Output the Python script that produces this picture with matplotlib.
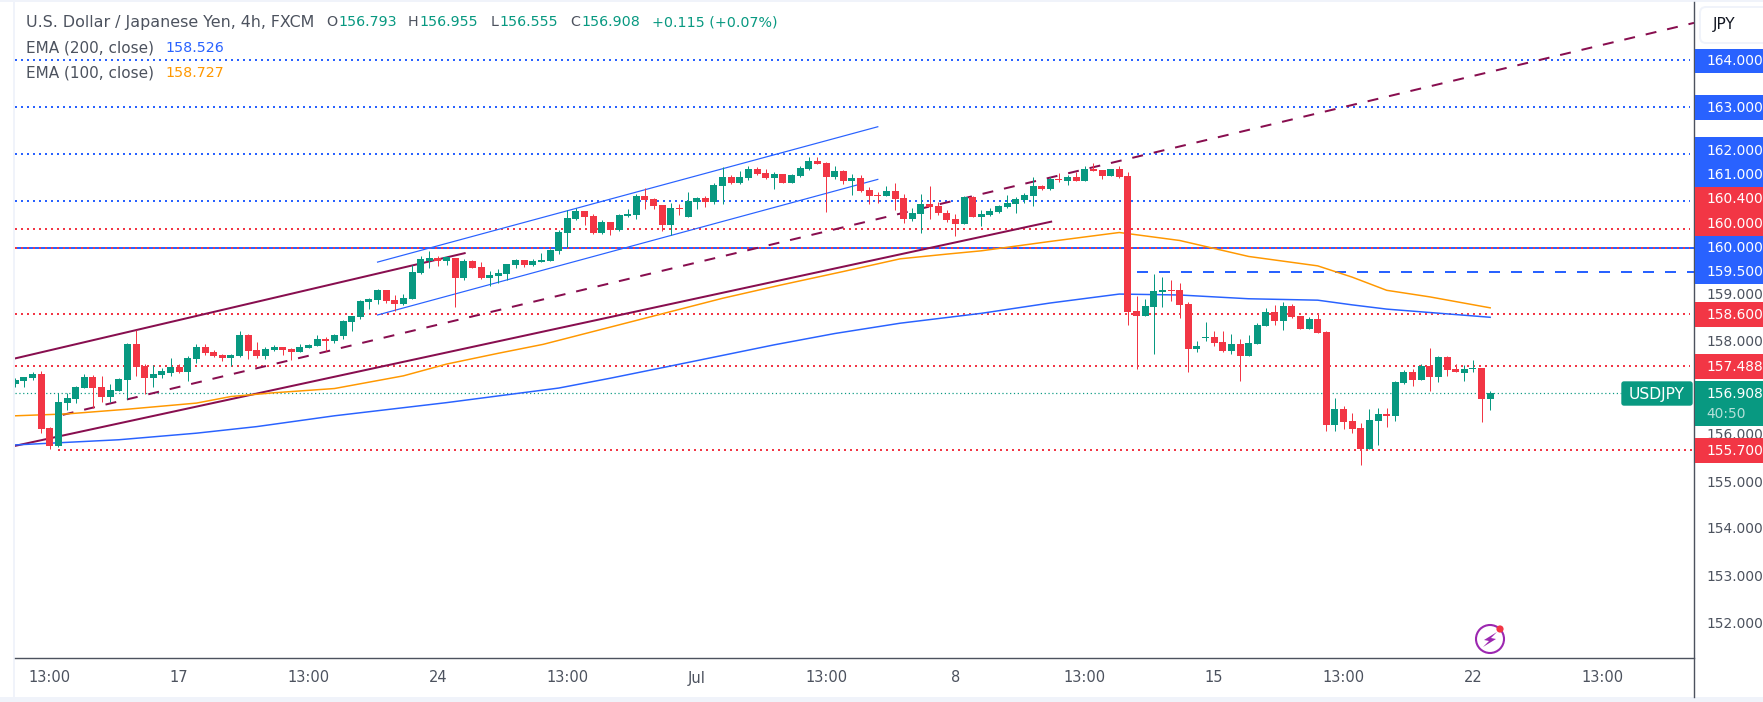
import matplotlib
matplotlib.use("Agg")
import matplotlib.pyplot as plt
from matplotlib.patches import Rectangle, FancyBboxPatch, Circle, Polygon

plt.rcParams['font.family'] = ['DejaVu Sans']

GREEN = '#089981'; RED = '#f23645'; BLUE = '#2962ff'; ORANGE = '#ff9800'; MAROON = '#880e4f'
STRIP = '#f0f3fa'; INK = '#4c525e'

# ------------------------------------------------------------------ data
opens = [157.11,157.17,157.23,157.32,156.17,155.79,156.70,156.79,157.02,157.26,157.04,156.83,156.96,157.19,157.96,157.49,157.23,157.30,157.34,157.47,157.36,157.64,
157.89,157.79,157.72,157.66,157.70,158.15,157.83,157.70,157.83,157.89,157.85,157.79,157.87,157.91,158.06,158.02,158.13,158.43,158.53,158.85,158.89,159.11,158.89,158.81,158.91,159.47,159.72,159.79,159.72,
159.79,159.36,159.72,159.60,159.36,159.40,159.45,159.64,159.74,159.64,159.70,159.72,159.94,
160.32,160.62,160.79,160.68,160.32,160.55,160.38,160.68,160.70,161.11,161.04,160.91,160.49,160.85,160.66,160.98,161.06,160.98,161.32,161.51,161.38,161.49,161.68,161.60,161.49,161.57,161.38,161.53,161.68,161.85,161.81,161.51,161.64,161.43,161.49,161.23,161.13,161.11,161.21,161.06,160.62,160.72,160.94,160.89,160.74,160.62,160.51,161.09,160.66,160.70,160.77,160.87,
160.94,161.02,161.11,161.32,161.26,161.47,161.43,161.51,161.43,161.68,161.66,161.53,161.68,161.53,158.66,158.55,158.75,159.06,159.11,159.11,158.81,157.85,158.08,158.11,158.00,157.81,157.96,157.70,157.96,158.34,158.64,158.45,158.77,158.55,158.28,158.49,158.21,
156.23,156.57,156.32,156.17,155.72,156.32,156.47,156.43,157.13,157.36,157.19,157.49,157.26,157.68,157.43,157.34,157.43,157.45,156.793]
highs = [157.23,157.26,157.36,157.38,156.19,156.91,156.91,157.06,157.32,157.30,157.28,157.11,157.23,157.98,158.26,157.53,157.51,157.45,157.66,157.53,157.70,157.96,
157.96,157.83,157.74,157.74,158.23,158.17,158.00,157.89,157.94,157.89,157.87,157.96,157.96,158.15,158.11,158.17,158.47,158.55,158.89,158.94,159.13,159.11,159.00,159.02,159.64,159.83,159.94,159.83,159.83,
159.79,159.77,159.74,159.70,159.51,159.55,159.66,159.77,159.74,159.77,159.89,159.98,160.38,
160.81,160.86,160.79,160.72,160.60,160.55,160.72,160.83,161.15,161.28,161.06,160.91,160.96,160.94,161.19,161.08,161.11,161.38,161.72,161.55,161.64,161.74,161.72,161.68,161.62,161.57,161.57,161.74,161.94,161.94,161.83,161.74,161.66,161.57,161.55,161.30,161.19,161.32,161.38,161.15,160.85,161.15,161.32,160.98,160.81,160.72,161.11,161.11,160.81,160.85,160.91,161.13,
161.09,161.17,161.51,161.34,161.51,161.60,161.55,161.62,161.74,161.81,161.66,161.68,161.74,161.62,158.98,158.91,159.45,159.38,159.32,159.26,158.85,158.02,158.43,158.23,158.23,158.17,158.06,158.15,158.40,158.72,158.79,158.85,158.81,158.55,158.53,158.62,158.23,
156.81,156.64,156.49,156.28,156.57,156.60,156.60,157.17,157.40,157.43,157.53,157.87,157.70,157.70,157.53,157.51,157.62,157.45,156.955]
lows = [157.05,157.05,157.19,156.06,155.72,155.77,156.55,156.70,157.02,156.60,156.72,156.72,156.96,156.79,157.28,156.89,157.04,157.23,157.28,157.34,157.17,157.55,
157.72,157.68,157.60,157.49,157.68,157.64,157.66,157.64,157.81,157.72,157.62,157.79,157.87,157.91,157.81,157.98,158.06,158.23,158.49,158.70,158.81,158.83,158.66,158.79,158.91,159.45,159.57,159.62,159.64,
158.74,159.32,159.57,159.34,159.19,159.26,159.32,159.57,159.60,159.62,159.70,159.72,159.87,
160.03,160.60,160.49,160.30,160.30,160.28,160.36,160.66,160.62,160.83,160.83,160.36,160.28,160.70,160.66,160.83,160.87,160.94,160.94,161.36,161.36,161.45,161.55,161.47,161.26,161.38,161.38,161.51,161.66,161.79,160.77,161.47,161.36,161.13,161.19,160.94,160.96,161.11,160.81,160.53,160.57,160.32,160.62,160.70,160.55,160.26,160.51,160.66,160.47,160.68,160.74,160.85,
160.74,160.96,160.89,161.23,161.23,161.40,161.34,161.43,161.43,161.64,161.47,161.53,161.49,158.36,157.43,158.55,157.74,158.75,158.87,158.51,157.36,157.79,158.02,157.91,157.79,157.74,157.17,157.70,157.96,158.34,158.36,158.26,158.51,158.28,158.28,158.19,156.11,
156.11,156.15,156.06,155.38,155.72,155.81,156.19,156.32,157.11,157.06,157.19,156.96,157.15,157.28,157.36,157.17,157.36,156.30,156.555]
closes = [157.19,157.26,157.32,156.15,155.79,156.72,156.81,157.04,157.26,157.02,156.83,156.98,157.21,157.96,157.47,157.23,157.32,157.38,157.47,157.36,157.66,157.89,
157.77,157.70,157.66,157.72,158.15,157.81,157.70,157.85,157.89,157.83,157.79,157.89,157.94,158.06,158.02,158.15,158.45,158.55,158.87,158.91,159.11,158.87,158.81,158.94,159.49,159.77,159.79,159.72,159.81,
159.36,159.72,159.57,159.36,159.43,159.47,159.66,159.74,159.64,159.72,159.74,159.96,160.34,
160.64,160.79,160.66,160.32,160.55,160.38,160.70,160.72,161.11,161.02,160.89,160.49,160.85,160.83,161.00,161.06,160.98,161.34,161.51,161.38,161.51,161.68,161.57,161.49,161.57,161.38,161.55,161.70,161.85,161.79,161.51,161.64,161.43,161.49,161.21,161.11,161.11,161.21,161.04,160.62,160.74,160.94,160.87,160.74,160.60,160.51,161.09,160.66,160.72,160.79,160.89,160.96,
161.04,161.13,161.32,161.26,161.47,161.45,161.51,161.43,161.68,161.64,161.53,161.68,161.51,158.64,158.55,158.77,159.09,159.11,159.09,158.79,157.85,157.91,158.11,157.98,157.81,157.96,157.70,157.98,158.36,158.64,158.45,158.77,158.53,158.28,158.49,158.19,156.23,
156.57,156.30,156.15,155.72,156.34,156.47,156.43,157.15,157.36,157.19,157.49,157.26,157.68,157.40,157.36,157.43,157.45,156.79,156.908]

ema200_i = [0,12,21,28,37,50,63,69,76,88,95,102.6,112,120,128,135,143,151,155,159,171]
ema200_v = [155.81,155.92,156.06,156.20,156.43,156.71,157.02,157.23,157.49,157.94,158.18,158.40,158.61,158.83,159.02,159.00,158.92,158.89,158.79,158.70,158.526]
ema100_i = [0,6,13,21,25,30,37,45,50,56,61.2,68,75,82,88.7,96,102.6,108,112,120,128,135,143,151,155,159,164,171]
ema100_v = [156.43,156.47,156.57,156.70,156.84,156.92,157.01,157.28,157.53,157.76,157.95,158.27,158.60,158.93,159.21,159.50,159.77,159.87,159.94,160.14,160.33,160.16,159.82,159.62,159.38,159.10,158.96,158.727]

blue_dotted = [164.0, 163.0, 162.0, 161.0]
red_dotted = [160.4, 160.0, 158.6, 157.488]
red_low = 155.7
blue_solid = 160.0
blue_dashed = 159.5
last_price = 156.908

time_i = [4,19,34,49,64,79,94,109,124,139,154,169,184]
time_labels = ['13:00','17','13:00','24','13:00','Jul','13:00','8','13:00','15','13:00','22','13:00']

# label, text centre, band top, band bottom, colour (pixels are layout of the price scale)
scale_tags = [('164.000',61,49,73,BLUE),('163.000',108,95,120,BLUE),('162.000',151,137,162,BLUE),
              ('161.000',175,162,187,BLUE),('160.400',199,187,212,RED),('160.000',224,212,236,RED),
              ('160.000',248,236,260,BLUE),('159.500',272,260,284,BLUE),('158.600',315,302,327,RED),
              ('157.488',367,354,379,RED),('155.700',451,438,463,RED)]
scale_plain = [('159.000',295),('158.000',342),('156.000',435),('155.000',483),('154.000',529),('153.000',577),('152.000',624)]

W, H = 1763, 702
fig = plt.figure(figsize=(W/100, H/100), dpi=100, facecolor='white')

# ------------------------------------------------------------------ chart pane
L, R, T, B = 15, 1694, 2, 658
ax = fig.add_axes([L/W, 1-B/H, (R-L)/W, (B-T)/H], zorder=2)
ax.set_xlim((L-15.3)/8.625, (R-15.3)/8.625)
ax.set_ylim(164-(B-60)/47, 164+(60-T)/47)
ax.axis('off')
xr = ax.get_xlim()
x_end = (1690-15.3)/8.625

px = 0.72
for v in blue_dotted:
    ax.plot([xr[0], x_end], [v, v], color=BLUE, lw=2*px, dashes=(1, 2), dash_capstyle='butt', zorder=1)
ax.plot([xr[0], xr[1]], [blue_solid]*2, color=BLUE, lw=2*px, zorder=1)
for v in red_dotted:
    ax.plot([xr[0], x_end], [v, v], color=RED, lw=2*px, dashes=(1, 2), dash_capstyle='butt', zorder=1.1)
ax.plot([5, x_end+0.4], [red_low]*2, color=RED, lw=2*px, dashes=(1, 2), dash_capstyle='butt', zorder=1)
ax.plot([130, xr[1]], [blue_dashed]*2, color=BLUE, lw=2*px, dashes=(5.5, 5.5), dash_capstyle='butt', zorder=1)
ax.plot([xr[0], 186.2], [last_price]*2, color=GREEN, lw=1.2*px, dashes=(1, 2.2), dash_capstyle='butt', zorder=1)

ax.plot([xr[0], 52.1], [157.65, 159.89], color=MAROON, lw=2*px, zorder=2)
ax.plot([xr[0], 120.1], [155.79, 160.56], color=MAROON, lw=2*px, zorder=2)
ax.plot([5.5, xr[1]], [156.45, 164.79], color=MAROON, lw=2*px, dashes=(5.5, 5.5), dash_capstyle='butt', zorder=2)
ax.plot([42, 100], [159.70, 162.58], color=BLUE, lw=1.2*px, zorder=2)
ax.plot([42, 100], [158.575, 161.46], color=BLUE, lw=1.2*px, zorder=2)

ax.plot(ema100_i, ema100_v, color=ORANGE, lw=1.5*px, zorder=3)
ax.plot(ema200_i, ema200_v, color=BLUE, lw=1.5*px, zorder=3)

for i, (o, h, l, c) in enumerate(zip(opens, highs, lows, closes)):
    col = GREEN if c >= o else RED
    ax.plot([i, i], [l, h], color=col, lw=1*px, solid_capstyle='butt', zorder=4)
    ax.bar(i, abs(c-o), bottom=min(o, c), width=0.81, color=col, linewidth=0, zorder=5)

# ------------------------------------------------------------------ chrome, in pixels
ov = fig.add_axes([0, 0, 1, 1], zorder=3)
ov.set_xlim(0, W); ov.set_ylim(H, 0); ov.axis('off'); ov.patch.set_alpha(0)

ov.add_patch(Rectangle((0, 0), W, 2, color=STRIP, lw=0))
ov.add_patch(Rectangle((13, 0), 2, 697, color=STRIP, lw=0))
ov.add_patch(Rectangle((0, 697), W, 5, color=STRIP, lw=0))
ov.plot([15, 1694], [658, 658], color=INK, lw=1.4*px)
ov.plot([1694, 1694], [2, 697], color=INK, lw=1.4*px)

FS = 10.5
FST = 9.9
for text, y, top, bot, colr in scale_tags:
    ov.add_patch(Rectangle((1694.5, top), 70, bot-top, color=colr, lw=0, zorder=3))
    ov.text(1706, y, text, color='white', fontsize=FST, va='center', ha='left', zorder=4, clip_on=True)
for text, y in scale_plain:
    ov.text(1706, y, text, color=INK, fontsize=FST, va='center', ha='left', zorder=2, clip_on=True)

ov.add_patch(Rectangle((1694.5, 381), 70, 45, color=GREEN, lw=0, zorder=3))
ov.text(1706, 394, '156.908', color='white', fontsize=FST, va='center', zorder=4)
ov.text(1706, 414, '40:50', color='#b5e0d9', fontsize=FST, va='center', zorder=4)
ov.add_patch(FancyBboxPatch((1622, 382), 70, 23, boxstyle='round,pad=0,rounding_size=2', fc=GREEN, ec=GREEN, lw=1, zorder=3))
ov.text(1657, 394, 'USDJPY', color='white', fontsize=11.2, va='center', ha='center', zorder=4)
ov.add_patch(FancyBboxPatch((1700, 7), 80, 36, boxstyle='round,pad=0,rounding_size=6', fc='white', ec=STRIP, lw=1.4, zorder=3))
ov.text(1713, 25, 'JPY', color='#131722', fontsize=11, va='center', zorder=4)

for i, t in zip(time_i, time_labels):
    ov.text(15.3+8.625*i, 678, t, color=INK, fontsize=FS, va='center', ha='center')

# legend
LS = 10.3
ov.text(26, 22, 'U.S. Dollar / Japanese Yen, 4h, FXCM', color=INK, fontsize=11.4, va='center')
cursor = [(326,'O',INK),(338,'156.793',GREEN),(408,'H',INK),(419,'156.955',GREEN),(491,'L',INK),(499,'156.555',GREEN),(570,'C',INK),(581,'156.908',GREEN),(652,'+0.115 (+0.07%)',GREEN)]
for x, s, c in cursor:
    ov.text(x, 22, s, color=c, fontsize=LS, va='center')
ov.text(26, 48, 'EMA (200, close)', color=INK, fontsize=11, va='center', zorder=5)
ov.text(165, 48, '158.526', color=BLUE, fontsize=LS, va='center', zorder=5)
ov.text(26, 73, 'EMA (100, close)', color=INK, fontsize=11, va='center', zorder=5)
ov.text(165, 73, '158.727', color=ORANGE, fontsize=LS, va='center', zorder=5)

# bolt icon
ov.add_patch(Circle((1490, 639), 14, fc='white', ec='#9c27b0', lw=1.5, zorder=4))
ov.add_patch(Polygon([(1497,632),(1484,640),(1489,641),(1483,647),(1496,639),(1491,638)], fc='#9c27b0', ec='none', zorder=5))
ov.add_patch(Circle((1500, 629), 3.6, fc=RED, ec='none', zorder=6))

fig.savefig('out.png', dpi=100)
